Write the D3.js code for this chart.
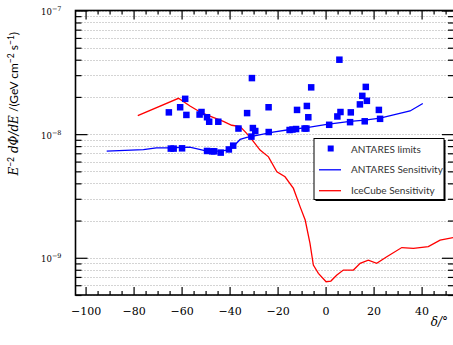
<!DOCTYPE html>
<html>
<head>
<meta charset="utf-8">
<script src="https://cdn.jsdelivr.net/npm/d3@7"></script>
<style>
    body { margin: 0; background: #fff; }
    svg { display: block; }
</style>
</head>
<body>
<div class="Canvas"></div>
<script>
// ANTARES limits (declination in degrees, flux in units of 1e-8 GeV cm^-2 s^-1)
const limitDec = [-65.3, -64.5, -63.3, -60.6, -59.8, -58.5, -58.0, -52.5, -51.7, -49.4, -48.5, -49.4,
    -47.2, -46.4, -44.7, -43.7, -40.3, -38.5, -36.3, -32.7, -30.7, -30.3, -30.9, -29.3, -23.75, -23.7,
    -15.0, -13.8, -12.3, -11.9, -8.75, -8.0, -7.8, -7.2, -6.0, 1.5, 4.9, 5.75, 6.2, 10.2, 10.5, 14.3,
    15.3, 16.3, 16.75, 17.2, 22.2, 22.7];
const limitFlux = [1.50, 0.764, 0.764, 1.65, 0.768, 1.93, 1.43, 1.44, 1.51, 1.37, 1.26, 0.731,
    0.726, 0.726, 1.26, 0.709, 0.752, 0.807, 1.11, 1.48, 2.84, 1.12, 0.955, 1.06, 1.65, 1.04,
    1.08, 1.09, 1.10, 1.57, 1.11, 1.11, 1.69, 1.37, 2.39, 1.19, 1.39, 4.0, 1.51, 1.25, 1.50, 1.74,
    2.04, 1.27, 2.41, 1.86, 1.57, 1.33];

// ANTARES sensitivity curve
const antDec = [-91.2, -75.9, -70.5, -65, -56.6, -49.4, -43.9, -41.1, -38.3, -35.6, -32.8, -28.1,
    -21.9, -14.8, -7.8, 0.5, 10.2, 16.4, 22.7, 29.6, 35.2, 40.5];
const antFlux = [0.729, 0.75, 0.775, 0.775, 0.785, 0.729, 0.729, 0.742, 0.80, 0.906, 0.94, 0.98,
    1.04, 1.09, 1.13, 1.20, 1.27, 1.30, 1.35, 1.45, 1.54, 1.77];

// IceCube sensitivity curve
const iceDec = [-78.25, -61.3, -56.5, -52.3, -47.4, -42.6, -39.1, -35.6, -32.8, -30.2, -27.3, -23.8,
    -20.3, -16.9, -13.4, -10.6, -8.5, -6.5, -5.1, -3.0, 0.2, 2.2, 4.7, 7.4, 11.6, 14.4, 17.8, 21.3,
    25.5, 31.75, 36.6, 42.8, 47.7, 53.25];
const iceFlux = [1.41, 1.95, 1.69, 1.51, 1.38, 1.27, 1.18, 1.15, 1.01, 0.878, 0.743, 0.655,
    0.496, 0.452, 0.364, 0.258, 0.202, 0.131, 0.0873, 0.0748, 0.064, 0.0648, 0.0725, 0.0796, 0.0796,
    0.0901, 0.0958, 0.0901, 0.102, 0.121, 0.119, 0.123, 0.139, 0.146];

const xMajor = [-100, -80, -60, -40, -20, 0, 20, 40];
const yMajor = [1e-9, 1e-8, 1e-7];
const yMajorExp = ['−9', '−8', '−7'];

const legendLabels = ['ANTARES limits', 'ANTARES Sensitivity', 'IceCube Sensitivity'];

const width = 453, height = 345;
const plotLeft = 75.5, plotRight = 454, plotTop = 10.5, plotBottom = 295;
const unit = 1e-8;

const svg = d3.select('.Canvas').append('svg').attr('width', width).attr('height', height);

const x = d3.scaleLinear().domain([-104.2, 53.5]).range([plotLeft, plotRight]);
const y = d3.scaleLog().domain([5e-10, 1e-7]).range([plotBottom, plotTop]);

// minor ticks: every 5 deg on x, 2..9 x decade on y
const xMinor = d3.range(-100, 54, 5).filter((d) => d % 20 != 0);
let yAll = [];
for (let e = -10; e <= -8; e++) {
    for (let k = 1; k <= 9; k++) {
        const v = k * Math.pow(10, e);
        if (v >= 5e-10 * 0.999 && v <= 1e-7 * 1.001) yAll.push(v);
    }
}
yAll.push(1e-7);
const yMinor = yAll.filter((v) => !yMajor.some((m) => Math.abs(m - v) / m < 1e-6));

// dotted grid lines on every y tick
svg.append('g')
    .selectAll('line')
    .data(yAll)
    .enter()
    .append('line')
    .attr('x1', plotLeft)
    .attr('x2', plotRight)
    .attr('y1', (d) => Math.round(y(d)) + 0.5)
    .attr('y2', (d) => Math.round(y(d)) + 0.5)
    .attr('stroke', '#a8a8a8')
    .attr('stroke-width', 1)
    .attr('stroke-dasharray', '1,2');

svg.append('defs').append('clipPath').attr('id', 'plotClip')
    .append('rect').attr('x', plotLeft).attr('y', plotTop)
    .attr('width', plotRight - plotLeft).attr('height', plotBottom - plotTop);

const plot = svg.append('g').attr('clip-path', 'url(#plotClip)');

const line = d3.line().x((d) => x(d[0])).y((d) => y(d[1] * unit));

plot.append('path')
    .datum(d3.zip(iceDec, iceFlux))
    .attr('d', line)
    .attr('fill', 'none')
    .attr('stroke', '#ff0000')
    .attr('stroke-width', 1.3);

plot.append('path')
    .datum(d3.zip(antDec, antFlux))
    .attr('d', line)
    .attr('fill', 'none')
    .attr('stroke', '#0000ff')
    .attr('stroke-width', 1.3);

const markerSize = 6.5;
plot.selectAll('rect.limit')
    .data(d3.zip(limitDec, limitFlux))
    .enter()
    .append('rect')
    .attr('class', 'limit')
    .attr('x', (d) => x(d[0]) - markerSize / 2)
    .attr('y', (d) => y(d[1] * unit) - markerSize / 2)
    .attr('width', markerSize)
    .attr('height', markerSize)
    .attr('fill', '#0000ff');

// axes: ticks point inward on all four sides
const tickStyle = (g) => {
    g.select('.domain').remove();
    g.selectAll('line').attr('stroke', '#000').attr('stroke-width', 1.2);
};

svg.append('g').attr('transform', `translate(0,${plotBottom})`)
    .call(d3.axisBottom(x).tickValues(xMinor).tickSize(-4).tickFormat(''))
    .call(tickStyle);
svg.append('g').attr('transform', `translate(0,${plotBottom})`)
    .call(d3.axisBottom(x).tickValues(xMajor).tickSize(-8).tickPadding(12)
        .tickFormat((d) => (d < 0 ? '−' + Math.abs(d) : d)))
    .call(tickStyle)
    .call((g) => g.selectAll('text').attr('font-family', 'DejaVu Serif').attr('font-size', '11px').attr('fill', '#000'));

svg.append('g').attr('transform', `translate(0,${plotTop})`)
    .call(d3.axisTop(x).tickValues(xMinor).tickSize(-4).tickFormat(''))
    .call(tickStyle);
svg.append('g').attr('transform', `translate(0,${plotTop})`)
    .call(d3.axisTop(x).tickValues(xMajor).tickSize(-9).tickFormat(''))
    .call(tickStyle);

svg.append('g').attr('transform', `translate(${plotLeft},0)`)
    .call(d3.axisLeft(y).tickValues(yMinor).tickSize(-6).tickFormat(''))
    .call(tickStyle);
const yAxisMajor = svg.append('g').attr('transform', `translate(${plotLeft},0)`)
    .call(d3.axisLeft(y).tickValues(yMajor).tickSize(-12).tickFormat(''))
    .call(tickStyle);

svg.append('g').attr('transform', `translate(${plotRight},0)`)
    .call(d3.axisRight(y).tickValues(yMinor).tickSize(-6).tickFormat(''))
    .call(tickStyle);
svg.append('g').attr('transform', `translate(${plotRight},0)`)
    .call(d3.axisRight(y).tickValues(yMajor).tickSize(-12).tickFormat(''))
    .call(tickStyle);

// y labels as 10^n with a raised exponent
yAxisMajor.selectAll('.tick').each(function (d, i) {
    const t = d3.select(this).append('text')
        .attr('x', -14)
        .attr('y', 4)
        .attr('text-anchor', 'end')
        .attr('font-family', 'DejaVu Serif')
        .attr('font-size', '8.5px')
        .attr('fill', '#000');
    t.append('tspan').text('10');
    t.append('tspan').attr('dy', -4).attr('font-size', '6.5px').text(yMajorExp[i]);
});

// frame
svg.append('rect')
    .attr('x', plotLeft)
    .attr('y', plotTop)
    .attr('width', plotRight - plotLeft)
    .attr('height', plotBottom - plotTop)
    .attr('fill', 'none')
    .attr('stroke', '#000')
    .attr('stroke-width', 1.6);

// axis titles
const yTitle = svg.append('text')
    .attr('transform', `translate(18,${(plotTop + 197) / 2}) rotate(-90)`)
    .attr('text-anchor', 'middle')
    .attr('font-family', 'Lato')
    .attr('font-size', '12px')
    .attr('fill', '#000');
yTitle.append('tspan').attr('font-family', 'DejaVu Serif').attr('font-style', 'italic').text('E');
yTitle.append('tspan').attr('dy', -4.5).attr('font-size', '8.5px').text('−2');
yTitle.append('tspan').attr('dy', 4.5).attr('font-family', 'DejaVu Serif').attr('font-style', 'italic').text(' dΦ/dE');
yTitle.append('tspan').text(' /(GeV cm');
yTitle.append('tspan').attr('dy', -4.5).attr('font-size', '8.5px').text('−2');
yTitle.append('tspan').attr('dy', 4.5).text(' s');
yTitle.append('tspan').attr('dy', -4.5).attr('font-size', '8.5px').text('−1');
yTitle.append('tspan').attr('dy', 4.5).text(')');

svg.append('text')
    .attr('x', 448)
    .attr('y', 326)
    .attr('text-anchor', 'end')
    .attr('font-family', 'DejaVu Serif')
    .attr('font-style', 'italic')
    .attr('font-size', '12px')
    .attr('fill', '#000')
    .text('δ/°');

// legend
const lg = svg.append('g').attr('transform', 'translate(314,138.5)');
lg.append('rect').attr('x', 1.5).attr('y', 1.5).attr('width', 130).attr('height', 61).attr('fill', '#000');
lg.append('rect').attr('width', 130).attr('height', 61).attr('fill', '#fff').attr('stroke', '#000').attr('stroke-width', 1);

const rows = lg.selectAll('g.row')
    .data(legendLabels)
    .enter()
    .append('g')
    .attr('transform', (d, i) => `translate(0,${10.5 + i * 20.8})`);
rows.append('text')
    .attr('x', 37)
    .attr('y', 0)
    .attr('dy', '0.35em')
    .attr('font-family', 'Lato')
    .attr('font-size', '10px')
    .attr('fill', '#333')
    .text((d) => d);

lg.append('rect').attr('x', 16.7 - 3).attr('y', 10 - 3).attr('width', 6).attr('height', 6).attr('fill', '#0000ff');
lg.append('line').attr('x1', 5).attr('x2', 27).attr('y1', 31.3).attr('y2', 31.3).attr('stroke', '#0000ff').attr('stroke-width', 1.3);
lg.append('line').attr('x1', 5).attr('x2', 27).attr('y1', 52.2).attr('y2', 52.2).attr('stroke', '#ff0000').attr('stroke-width', 1.3);
</script>
</body>
</html>
